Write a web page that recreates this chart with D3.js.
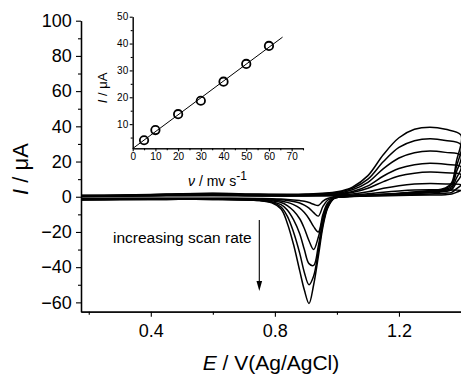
<!DOCTYPE html>
<html><head><meta charset="utf-8">
<script src="https://cdn.jsdelivr.net/npm/d3@7"></script>
<style>
html,body{margin:0;padding:0;background:#fff;}
svg{display:block;font-family:"Liberation Sans",Arial,sans-serif;}
</style></head><body>
<svg id="c" width="461" height="375"></svg>
<script>
// ---------------- data ----------------
const scanRates = [5, 10, 20, 30, 40, 50, 60];                 // mV/s (inset x)
const peakCurrent = [4.0, 7.8, 13.7, 18.7, 25.8, 32.4, 39.1];  // µA (inset y)

// potential grids (V) for forward (anodic) and reverse (cathodic) sweeps
const fwdE = [0.175,0.3,0.45,0.6,0.75,0.9,1.0,1.05,1.1,1.15,1.2,1.25,1.3,1.35,1.4];
const revE = [1.385,1.37,1.35,1.3,1.2,1.1,1.02,0.99,0.97,0.955,0.94,0.925,0.91,0.895,0.88,0.86,0.84,0.82,0.79,0.75,0.6,0.45,0.3,0.175];

// currents (µA), one pair per scan rate
const fwd5  = [0.2,0.3,0.5,0.6,0.4,0.4,0.7,1.0,1.7,2.6,3.3,3.8,4.0,3.9,3.6];
const rev5  = [2.5,1.5,1.2,1.0,0.7,0.4,0.0,-0.3,-1.0,-2.5,-5.0,-4.3,-3.3,-2.6,-2.2,-1.8,-1.5,-1.3,-1.1,-1.0,-0.8,-0.8,-0.8,-0.9];
const fwd10 = [0.3,0.4,0.7,0.8,0.5,0.5,0.9,1.5,2.8,4.8,6.3,7.2,7.5,7.3,6.8];
const rev10 = [4.5,2.5,2.0,1.6,1.0,0.5,0.0,-0.5,-2.0,-5.5,-11,-9,-6.5,-4.8,-3.6,-2.7,-2.1,-1.7,-1.4,-1.2,-1.0,-1.0,-1.0,-1.1];
const fwd20 = [0.4,0.5,0.9,1.1,0.7,0.7,1.3,2.4,4.8,8.6,11.8,13.4,14.0,13.6,12.6];
const rev20 = [8,4,3,2.2,1.3,0.6,0.0,-0.7,-3.5,-10,-20,-17,-12.5,-9,-6.5,-4.5,-3.2,-2.4,-1.8,-1.5,-1.2,-1.2,-1.2,-1.3];
const fwd30 = [0.5,0.6,1.1,1.4,0.9,0.9,1.6,3.0,6.2,11.8,16,18.2,19,18.4,17];
const rev30 = [10.5,5,3.6,2.6,1.5,0.7,0.0,-0.8,-4.5,-12,-23,-30,-25,-18,-12.5,-8,-5,-3.3,-2.3,-1.8,-1.3,-1.3,-1.4,-1.5];
const fwd40 = [0.6,0.7,1.2,1.6,1.1,1.1,2.0,4.0,8.2,16,22,25,26,25.2,23.5];
const rev40 = [14,6,4.2,3.0,1.7,0.8,0.0,-0.9,-5.5,-14,-28,-39,-38,-30,-21,-13,-7.5,-4.5,-2.8,-2.0,-1.4,-1.4,-1.5,-1.6];
const fwd50 = [0.7,0.8,1.4,1.8,1.3,1.3,2.4,4.8,10,20,28,31.8,33,32,29.5];
const rev50 = [17,7,4.6,3.3,1.9,0.9,0.0,-1.0,-6,-15.5,-31,-45,-50,-43,-32,-20,-11,-5.8,-3.2,-2.1,-1.5,-1.5,-1.6,-1.7];
const fwd60 = [0.8,1.0,1.5,2.0,1.5,1.5,2.8,5.5,12,24,33.5,38.3,39.5,38.3,35];
const rev60 = [20,8,5,3.5,2.0,1.0,0.0,-1.0,-6.5,-17,-34,-50,-60.6,-53,-42,-27,-15,-7,-3.5,-2.2,-1.5,-1.5,-1.6,-1.8];

const forwardSweeps = [fwd5, fwd10, fwd20, fwd30, fwd40, fwd50, fwd60];
const reverseSweeps = [rev5, rev10, rev20, rev30, rev40, rev50, rev60];

// tick labels
const mainXTicks = [0.4, 0.8, 1.2];
const mainXMinor = [0.2, 0.6, 1.0];
const mainYTicks = [-60, -40, -20, 0, 20, 40, 60, 80, 100];
const mainYMinor = [-50, -30, -10, 10, 30, 50, 70, 90];
const insetXTicks = [0, 10, 20, 30, 40, 50, 60, 70];
const insetXMinor = [5, 15, 25, 35, 45, 55, 65, 75];
const insetYTicks = [10, 20, 30, 40, 50];
const insetYMinor = [5, 15, 25, 35, 45];

// ---------------- drawing ----------------
const svg = d3.select("#c");
const x = d3.scaleLinear().domain([0.175, 1.4]).range([81, 461]);
const y = d3.scaleLinear().domain([-65.3, 100]).range([311.7, 20.7]);

function styleAxis(g, fs) {
  g.select(".domain").attr("stroke", "#000").attr("stroke-width", 1.3);
  g.selectAll(".tick line").attr("stroke", "#000").attr("stroke-width", 1.1);
  g.selectAll(".tick text").attr("fill", "#000").style("font-size", fs + "px")
    .style("font-family", '"Liberation Sans", Arial, sans-serif');
  g.attr("font-family", null).attr("font-size", null);
}

// curves
const line = d3.line().x(d => x(d[0])).y(d => y(d[1])).curve(d3.curveCatmullRom.alpha(0.5));
forwardSweeps.forEach((fw, i) => {
  const pts = fwdE.map((e, j) => [e, fw[j]]).concat(revE.map((e, j) => [e, reverseSweeps[i][j]]));
  svg.append("path").attr("d", line(pts)).attr("fill", "none")
    .attr("stroke", "#000").attr("stroke-width", 1.5).attr("stroke-linejoin", "round");
});

// main axes
const gx = svg.append("g").attr("transform", "translate(0,311.7)")
  .call(d3.axisBottom(x).tickValues(mainXTicks).tickSize(5).tickSizeOuter(0).tickPadding(8).tickFormat(d3.format(".1f")));
styleAxis(gx, 18);
const gxm = svg.append("g").attr("transform", "translate(0,311.7)")
  .call(d3.axisBottom(x).tickValues(mainXMinor).tickSize(3).tickSizeOuter(0).tickFormat(""));
styleAxis(gxm, 18);
const gy = svg.append("g").attr("transform", "translate(81,0)")
  .call(d3.axisLeft(y).tickValues(mainYTicks).tickSize(5).tickSizeOuter(0).tickPadding(4.3));
styleAxis(gy, 18);
const gym = svg.append("g").attr("transform", "translate(81,0)")
  .call(d3.axisLeft(y).tickValues(mainYMinor).tickSize(3).tickSizeOuter(0).tickFormat(""));
styleAxis(gym, 18);

// main axis titles
const yt = svg.append("text").attr("transform", "translate(28,169) rotate(-90)")
  .attr("text-anchor", "middle").style("font-size", "22px").attr("fill", "#000");
yt.append("tspan").style("font-style", "italic").text("I");
yt.append("tspan").text(" / μA");
const xt = svg.append("text").attr("x", 271).attr("y", 369.5)
  .attr("text-anchor", "middle").style("font-size", "21px").attr("fill", "#000");
xt.append("tspan").style("font-style", "italic").text("E");
xt.append("tspan").text(" / V(Ag/AgCl)");

// annotation
svg.append("text").attr("x", 113).attr("y", 243).style("font-size", "15.5px")
  .attr("fill", "#000").text("increasing scan rate");
svg.append("line").attr("x1", 259.3).attr("x2", 259.3).attr("y1", 220).attr("y2", 286)
  .attr("stroke", "#000").attr("stroke-width", 1.1);
svg.append("path").attr("d", "M256.5,281 L259.3,291 L262.1,281 Z").attr("fill", "#000");

// inset
const ix = d3.scaleLinear().domain([0, 75]).range([132.7, 303]);
const iy = d3.scaleLinear().domain([1, 50]).range([148.3, 16.7]);

const gix = svg.append("g").attr("transform", "translate(0,148.3)")
  .call(d3.axisBottom(ix).tickValues(insetXTicks).tickSize(3).tickSizeOuter(0).tickPadding(2));
styleAxis(gix, 10);
const gixm = svg.append("g").attr("transform", "translate(0,148.3)")
  .call(d3.axisBottom(ix).tickValues(insetXMinor).tickSize(2).tickSizeOuter(0).tickFormat(""));
styleAxis(gixm, 10);
const giy = svg.append("g").attr("transform", "translate(132.7,0)")
  .call(d3.axisLeft(iy).tickValues(insetYTicks).tickSize(3).tickSizeOuter(0).tickPadding(1.5));
styleAxis(giy, 10);
const giym = svg.append("g").attr("transform", "translate(132.7,0)")
  .call(d3.axisLeft(iy).tickValues(insetYMinor).tickSize(2).tickSizeOuter(0).tickFormat(""));
styleAxis(giym, 10);
[gix, gixm, giy, giym].forEach(g => g.select(".domain").attr("stroke-width", 1));

// linear fit through inset points
const mx = d3.mean(scanRates), my = d3.mean(peakCurrent);
const sxy = d3.sum(scanRates.map((v, i) => (v - mx) * (peakCurrent[i] - my)));
const sxx = d3.sum(scanRates.map(v => (v - mx) ** 2));
const slope = sxy / sxx, icpt = my - slope * mx;
const fitX = [0, 66];
svg.append("line").attr("x1", ix(fitX[0])).attr("y1", iy(icpt + slope * fitX[0]))
  .attr("x2", ix(fitX[1])).attr("y2", iy(icpt + slope * fitX[1]))
  .attr("stroke", "#000").attr("stroke-width", 1);
svg.selectAll("circle.pt").data(scanRates).enter().append("circle")
  .attr("cx", d => ix(d)).attr("cy", (d, i) => iy(peakCurrent[i])).attr("r", 4.2)
  .attr("fill", "none").attr("stroke", "#000").attr("stroke-width", 1.8);

// inset titles
const iyt = svg.append("text").attr("transform", "translate(107,88) rotate(-90)")
  .attr("text-anchor", "middle").style("font-size", "13px").attr("fill", "#000");
iyt.append("tspan").style("font-style", "italic").text("I");
iyt.append("tspan").text(" / μA");
const ixt = svg.append("text").attr("x", 188).attr("y", 186)
  .style("font-size", "14px").attr("fill", "#000");
ixt.append("tspan").style("font-style", "italic").text("ν");
ixt.append("tspan").text(" / mv s");
ixt.append("tspan").attr("dy", -6).style("font-size", "12px").text("-1");
</script>
</body></html>
